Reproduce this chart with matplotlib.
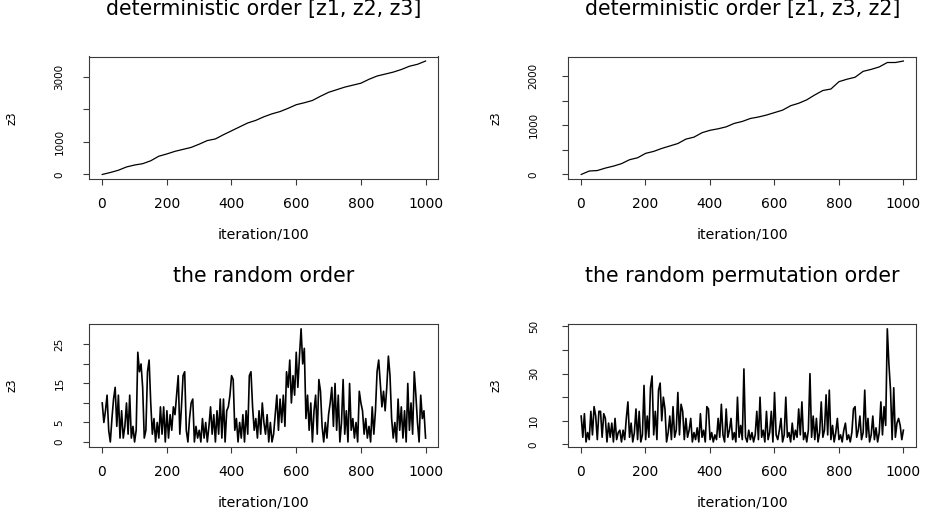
import numpy as np
import matplotlib
matplotlib.use("Agg")
import matplotlib.pyplot as plt

plt.rcParams['font.family'] = ['DejaVu Sans']

# ---------------- data ----------------
titles = ["deterministic order [z1, z2, z3]", "deterministic order [z1, z3, z2]",
          "the random order", "the random permutation order"]
x_label = "iteration/100"
y_label = "z3"
x_ticks = [0, 200, 400, 600, 800, 1000]

# trace of z3, deterministic order [z1, z2, z3] (every 25 iterations)
det_123 = [0, 60, 130, 230, 290, 330, 420, 560, 630, 710, 770, 830, 930, 1040, 1090,
           1220, 1340, 1460, 1580, 1660, 1770, 1860, 1930, 2030, 2140, 2200, 2270, 2400,
           2520, 2600, 2680, 2740, 2800, 2920, 3020, 3080, 3140, 3220, 3320, 3380, 3480]
# trace of z3, deterministic order [z1, z3, z2] (every 25 iterations)
det_132 = [0, 70, 80, 130, 170, 220, 300, 340, 430, 470, 530, 580, 630, 720, 760,
           850, 900, 930, 970, 1040, 1080, 1140, 1170, 1210, 1260, 1310, 1400, 1450,
           1520, 1620, 1710, 1740, 1890, 1940, 1980, 2100, 2140, 2190, 2280, 2280, 2310]
# trace of z3, random order (every 5 iterations)
rand_order = [10, 5, 8, 12, 3, 0, 6, 11, 14, 4,
              12, 1, 8, 1, 4, 10, 2, 12, 1, 4,
              0, 3, 23, 18, 20, 14, 1, 3, 18, 21,
              10, 2, 6, 0, 5, 1, 9, 2, 9, 0,
              8, 1, 7, 3, 9, 7, 12, 17, 2, 9,
              17, 18, 3, 0, 6, 10, 11, 0, 4, 1,
              3, 0, 6, 1, 5, 0, 4, 9, 2, 7,
              0, 8, 2, 11, 1, 11, 0, 8, 9, 12,
              17, 16, 3, 6, 0, 5, 1, 7, 0, 8,
              2, 17, 18, 9, 3, 6, 1, 8, 2, 10,
              5, 2, 7, 0, 5, 0, 2, 7, 12, 3,
              11, 5, 12, 4, 18, 14, 21, 10, 17, 12,
              23, 14, 22, 29, 20, 24, 6, 12, 3, 10,
              0, 8, 12, 2, 16, 13, 4, 0, 5, 1,
              7, 10, 14, 4, 15, 3, 12, 0, 5, 16,
              2, 8, 0, 15, 3, 6, 1, 5, 0, 13,
              10, 8, 2, 6, 1, 4, 0, 9, 2, 8,
              18, 21, 15, 9, 13, 8, 14, 22, 17, 6,
              1, 5, 0, 11, 3, 9, 1, 8, 0, 15,
              3, 10, 2, 18, 12, 5, 0, 12, 6, 8,
              1]
# trace of z3, random permutation order (every 5 iterations)
rand_perm = [12, 3, 13, 1, 5, 2, 14, 4, 16, 12,
             2, 14, 14, 3, 13, 11, 1, 9, 3, 9,
             1, 11, 2, 5, 6, 1, 6, 2, 11, 18,
             3, 9, 1, 5, 15, 2, 14, 1, 4, 25,
             2, 12, 3, 24, 29, 4, 14, 2, 23, 26,
             10, 20, 15, 1, 5, 12, 2, 16, 3, 6,
             22, 4, 17, 14, 2, 11, 3, 6, 11, 1,
             5, 2, 7, 1, 13, 3, 6, 1, 16, 15,
             2, 5, 1, 4, 2, 11, 3, 17, 4, 1,
             15, 3, 6, 11, 2, 5, 1, 20, 3, 8,
             2, 32, 3, 1, 6, 2, 5, 1, 4, 14,
             2, 20, 3, 6, 1, 14, 2, 5, 14, 1,
             22, 4, 2, 6, 11, 1, 4, 20, 3, 5,
             1, 9, 2, 6, 3, 15, 4, 18, 2, 5,
             1, 6, 30, 3, 12, 2, 11, 1, 5, 18,
             3, 6, 21, 4, 23, 2, 8, 1, 5, 11,
             2, 4, 1, 6, 9, 2, 4, 1, 5, 15,
             16, 3, 6, 12, 2, 5, 23, 3, 11, 1,
             4, 12, 2, 7, 1, 5, 18, 4, 16, 8,
             49, 34, 23, 2, 24, 3, 9, 11, 8, 2,
             6]

series = [det_123, det_132, rand_order, rand_perm]
y_ticks = [[0, 1000, 2000, 3000], [0, 500, 1000, 1500, 2000],
           [0, 5, 10, 15, 20, 25], [0, 10, 20, 30, 40, 50]]
y_ticklabels = [["0", "1000", "", "3000"], ["0", "", "1000", "", "2000"],
                ["0", "5", "", "15", "", "25"], ["0", "10", "", "30", "", "50"]]

# ---------------- layout ----------------
W, H = 928, 515
fig = plt.figure(figsize=(W / 100, H / 100), dpi=100)
boxes = [(89.3, 56.5, 438.5, 179.0), (568.3, 56.5, 916.3, 179.0),
         (89.3, 324.3, 438.5, 446.5), (568.3, 324.3, 916.3, 446.5)]
ytick_pad = [13.5, 17.0, 13.5, 17.0]
ylab_off = [77.0, 72.0, 77.0, 72.0]
line_w = [0.9, 0.9, 1.2, 1.2]
edge = '#3a3a3a'

for i, (l, t, r, b) in enumerate(boxes):
    ax = fig.add_axes([l / W, 1 - b / H, (r - l) / W, (b - t) / H])
    y = np.asarray(series[i], dtype=float)
    x = np.linspace(1, 1000, len(y))
    ax.plot(x, y, color='black', lw=line_w[i])
    xr = x.max() - x.min()
    ax.set_xlim(x.min() - 0.04 * xr, x.max() + 0.04 * xr)
    yr = y.max() - y.min()
    ax.set_ylim(y.min() - 0.04 * yr, y.max() + 0.04 * yr)
    for s in ax.spines.values():
        s.set_color(edge)
        s.set_linewidth(0.8)
    ax.set_xticks(x_ticks)
    ax.set_xticklabels([str(v) for v in x_ticks])
    ax.set_yticks(y_ticks[i])
    ax.set_yticklabels(y_ticklabels[i])
    ax.tick_params(axis='both', direction='out', length=4.3, width=0.8, color=edge)
    ax.tick_params(axis='x', labelsize=10, pad=9)
    ax.tick_params(axis='y', labelsize=7.5, pad=ytick_pad[i])
    for lab in ax.get_yticklabels():
        lab.set_rotation(90)
        lab.set_va('center')
    hpx = b - t
    wpx = r - l
    ax.set_xlabel(x_label, fontsize=10.2)
    ax.xaxis.set_label_coords(0.5, -(235 - 179) / hpx)
    ax.xaxis.label.set_va('center')
    ax.set_ylabel(y_label, fontsize=8.5)
    ax.yaxis.set_label_coords(-ylab_off[i] / wpx, 0.5)
    ax.yaxis.label.set_va('center')
    ax.set_title(titles[i], fontsize=14.8, y=1 + 39.5 / hpx, va='center')

fig.savefig("out.png", dpi=100)
